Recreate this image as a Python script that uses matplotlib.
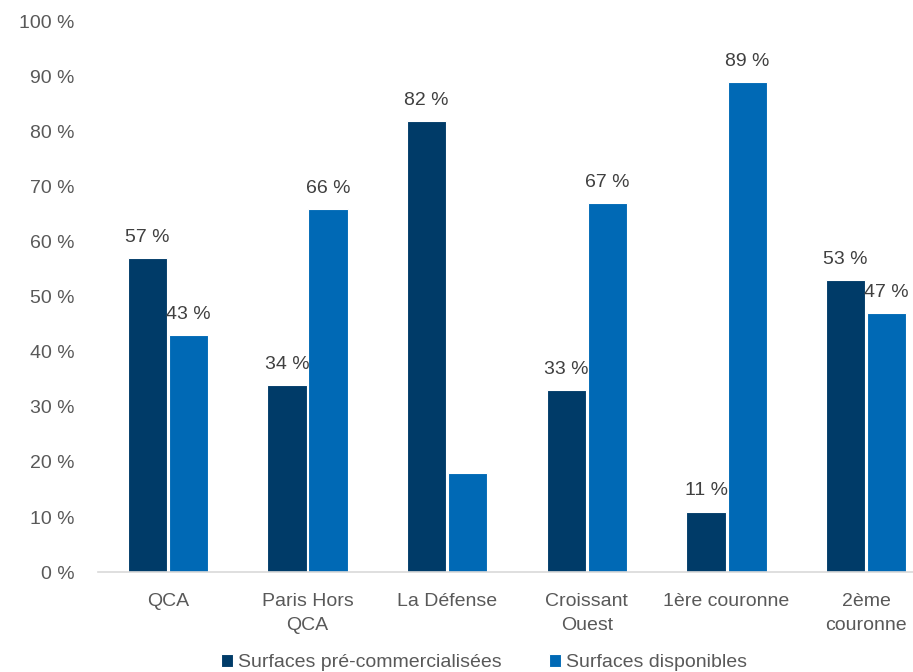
import numpy as np
import matplotlib.pyplot as plt

plt.rcParams['font.family'] = ['Liberation Sans', 'DejaVu Sans']

categories = ['QCA', 'Paris Hors\nQCA', 'La Défense', 'Croissant\nOuest',
              '1ère couronne', '2ème\ncouronne']
pre_comm = [57, 34, 82, 33, 11, 53]
disponibles = [43, 66, 18, 67, 89, 47]
# La Défense "disponibles" bar carries no label in the source
pre_labels = ['57 %', '34 %', '82 %', '33 %', '11 %', '53 %']
dispo_labels = ['43 %', '66 %', None, '67 %', '89 %', '47 %']
yticks = np.arange(0, 101, 10)

dark = '#003b68'
light = '#0069b5'
grey = '#595959'

fig = plt.figure(figsize=(9.13, 6.72), dpi=100)
ax = fig.add_axes([0.1073, 0.1488, 0.918, 0.8185])

x = np.arange(len(categories))
w = 0.28
off = 0.147
ax.bar(x - off, pre_comm, w, color=dark, edgecolor='white', linewidth=0.8,
       label='Surfaces pré-commercialisées')
ax.bar(x + off, disponibles, w, color=light, edgecolor='white', linewidth=0.8,
       label='Surfaces disponibles')

for xi, v, lab in zip(x - off, pre_comm, pre_labels):
    if lab:
        ax.annotate(lab, (xi, v), xytext=(0, 15), textcoords='offset points',
                    ha='center', va='center', fontsize=14, color='#404040')
for xi, v, lab in zip(x + off, disponibles, dispo_labels):
    if lab:
        ax.annotate(lab, (xi, v), xytext=(0, 15), textcoords='offset points',
                    ha='center', va='center', fontsize=14, color='#404040')

ax.set_xlim(-0.5, len(categories) - 0.5)
ax.set_ylim(0, 100)
ax.set_yticks(yticks)
ax.set_yticklabels([f'{t} %' for t in yticks])
ax.set_xticks(x)
ax.set_xticklabels(categories, linespacing=1.55)
ax.tick_params(axis='y', length=0, pad=17, labelsize=14, labelcolor=grey)
ax.tick_params(axis='x', length=0, pad=15, labelsize=14, labelcolor=grey)

for s in ['top', 'right', 'left']:
    ax.spines[s].set_visible(False)
ax.spines['bottom'].set_color('#d9d9d9')
ax.spines['bottom'].set_linewidth(1.2)

leg = fig.legend(loc='center', bbox_to_anchor=(0.53, 0.014), ncol=2, frameon=False,
                 fontsize=14, handlelength=0.65, handleheight=0.65, handletextpad=0.25,
                 columnspacing=2.4, borderaxespad=0)
for t in leg.get_texts():
    t.set_color(grey)

fig.savefig('out.png', dpi=100)
